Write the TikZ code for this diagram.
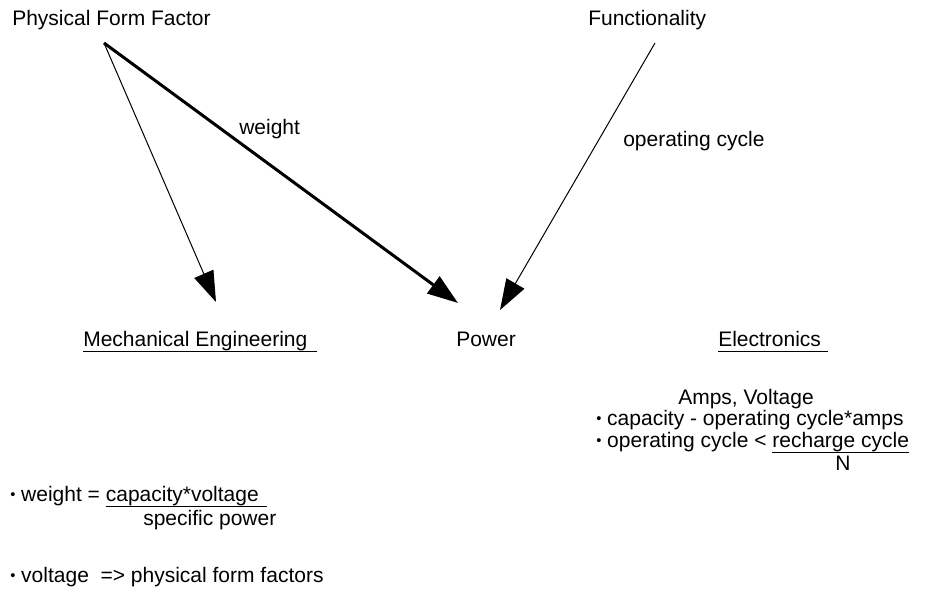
\documentclass[tikz,border=0pt]{standalone}
\usepackage{fontspec}
\setmainfont{Liberation Sans}
\usetikzlibrary{arrows.meta}
\newcommand\ulbox[2][0pt]{\setbox0\hbox{#2}\rlap{\rule[-3.75pt]{\dimexpr\wd0+#1\relax}{0.75pt}}\box0}
\newcommand\bul{\raisebox{1.5pt}{\fontsize{11pt}{11pt}\selectfont •}}
\begin{document}
\begin{tikzpicture}[x=0.75pt,y=-0.75pt,
  every node/.style={inner sep=0pt, anchor=base west, font=\fontsize{15.75pt}{22pt}\selectfont},
  thinarrow/.style={line width=0.75pt, -{Triangle[length=23pt,width=15.5pt]}},
  thickarrow/.style={line width=2.25pt, -{Triangle[length=23pt,width=15.5pt]}}]
\path[use as bounding box] (0,0) rectangle (925,591);
\node (pff) at (12,26) {Physical Form Factor};
\node (func) at (588,26) {Functionality};
\node (mech) at (83,347) {\ulbox[7.5pt]{Mechanical Engineering}};
\node (pow) at (456,347) {Power};
\node (elec) at (718,347) {\ulbox[5.25pt]{Electronics}};
\coordinate (pffo) at (104,43);
\coordinate (funco) at (655,43);
\coordinate (mtip) at (216,302);
\coordinate (ptip) at (458,303);
\coordinate (ftip) at (500,310);
\draw[thinarrow] (pffo) -- (mtip);
\draw[thickarrow] (pffo) -- (ptip);
\draw[thinarrow] (funco) -- (ftip);
\node (wlab) at (239,135) {weight};
\node (oclab) at (623,147) {operating cycle};
\node (amps) at (678,405) {Amps, Voltage};
\node (cap) at (596,426) {\bul\ capacity - operating cycle*amps};
\node (opc) at (596,448) {\bul\ operating cycle <\ \ulbox{recharge cycle}};
\node[anchor=base] (nn) at (843,471) {N};
\node (weq) at (10,502) {\bul\ weight = \ulbox[6pt]{capacity*voltage}};
\node (spw) at (143,525) {specific power};
\node (volt) at (10,582) {\bul\ voltage\ \ =>\ physical form factors};
\end{tikzpicture}
\end{document}
